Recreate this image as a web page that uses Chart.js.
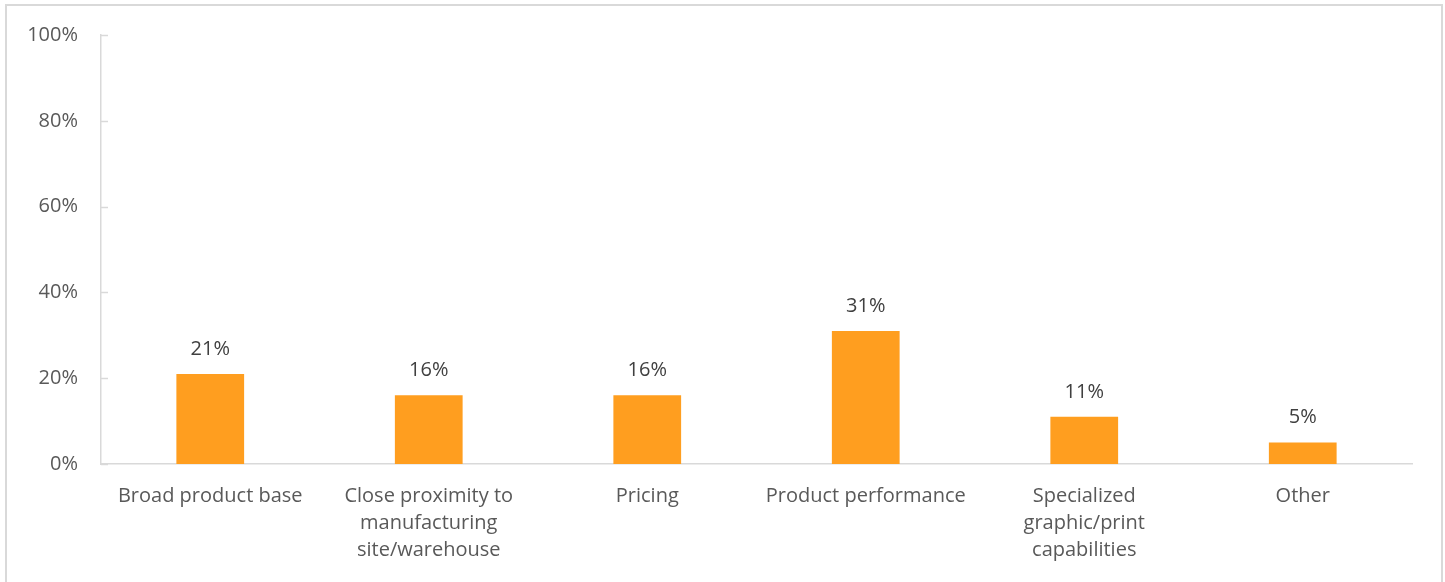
<!DOCTYPE html>
<html>
<head>
<meta charset="utf-8">
<script src="https://cdn.jsdelivr.net/npm/chart.js@4/dist/chart.umd.min.js"></script>
<style>
    html, body { margin: 0; padding: 0; background: #fff; }
    #frame {
        position: absolute; left: 0; top: 0; width: 1445px; height: 582px; overflow: hidden;
    }
    #border {
        position: absolute; left: 5px; top: 4px; width: 1438px; height: 620px;
        border: 2px solid #d9d9d9; box-sizing: border-box;
    }
    #wrap { position: absolute; left: 0; top: 0; width: 1445px; height: 582px; }
</style>
</head>
<body>
<div id="frame">
    <div id="border"></div>
    <div id="wrap"><canvas id="reason-chart"></canvas></div>
</div>
<script>
/*jshint esversion: 9 */

const categories = [
    'Broad product base',
    ['Close proximity to', 'manufacturing', 'site/warehouse'],
    'Pricing',
    'Product performance',
    ['Specialized', 'graphic/print', 'capabilities'],
    'Other',
];
const shares = [21, 16, 16, 31, 11, 5];
const yTicks = [0, 20, 40, 60, 80, 100];

const FONT = '"Open Sans", "Liberation Sans", Arial, sans-serif';

// small inward tick marks on the value axis
const innerTicks = {
    id: 'inner_ticks',
    afterDatasetsDraw: chart => {
        const ctx = chart.ctx;
        const y = chart.scales.y;
        ctx.save();
        ctx.strokeStyle = '#d9d9d9';
        ctx.lineWidth = 1.5;
        yTicks.forEach(v => {
            const py = Math.round(y.getPixelForValue(v)) + 0.5;
            ctx.beginPath();
            ctx.moveTo(y.right, py);
            ctx.lineTo(y.right + 7, py);
            ctx.stroke();
        });
        ctx.restore();
    },
};

// percentage labels above each bar
const barLabels = {
    id: 'bar_labels',
    afterDatasetsDraw: chart => {
        const ctx = chart.ctx;
        const meta = chart.getDatasetMeta(0);
        ctx.save();
        ctx.font = '20px ' + FONT;
        ctx.fillStyle = '#404040';
        ctx.textAlign = 'center';
        ctx.textBaseline = 'middle';
        meta.data.forEach((bar, i) => {
            ctx.fillText(shares[i] + '%', bar.x, bar.y - 25);
        });
        ctx.restore();
    },
};

const config = {
    type: 'bar',
    data: {
        labels: categories,
        datasets: [
            {
                data: shares,
                backgroundColor: '#FF9E1F',
                categoryPercentage: 1,
                barPercentage: 0.31,
            },
        ],
    },
    options: {
        responsive: true,
        maintainAspectRatio: false,
        animation: false,
        layout: { padding: { left: 0, top: 34, right: 33, bottom: 0 } },
        plugins: {
            legend: { display: false },
            tooltip: { enabled: false },
        },
        scales: {
            x: {
                grid: { display: false, drawTicks: false },
                border: { display: true, color: '#d9d9d9', width: 1.5 },
                ticks: {
                    color: '#595959',
                    font: { family: FONT, size: 20, lineHeight: 1.35 },
                    padding: 19,
                    maxRotation: 0,
                    autoSkip: false,
                },
                afterFit: scale => { scale.height = 118; },
            },
            y: {
                min: 0,
                max: 100,
                afterBuildTicks: scale => { scale.ticks = yTicks.map(v => ({ value: v })); },
                grid: { display: false, drawTicks: false },
                border: { display: true, color: '#d9d9d9', width: 1.5 },
                ticks: {
                    color: '#595959',
                    font: { family: FONT, size: 20 },
                    padding: 23,
                    callback: v => v + '%',
                },
                afterFit: scale => { scale.width = 101; },
            },
        },
    },
    plugins: [innerTicks, barLabels],
};

new Chart(document.getElementById('reason-chart'), config);
</script>
</body>
</html>
